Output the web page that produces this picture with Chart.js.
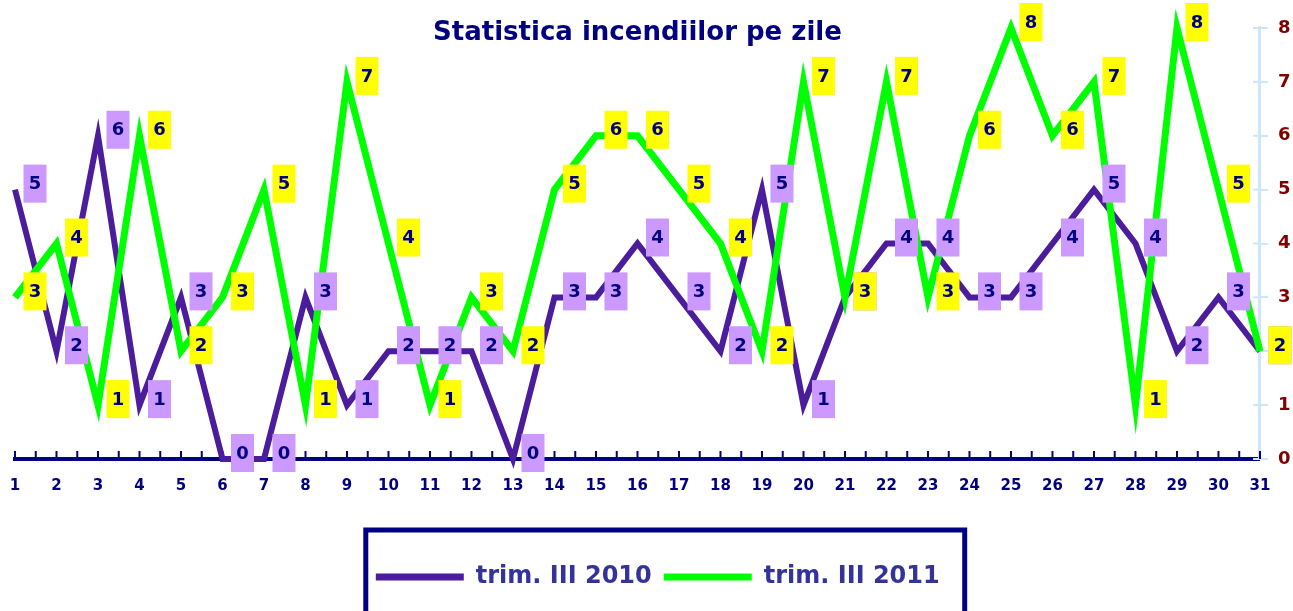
<!DOCTYPE html>
<html>
<head>
<meta charset="utf-8">
<script src="https://cdn.jsdelivr.net/npm/chart.js@4.4.0/dist/chart.umd.min.js"></script>
<style>
  html, body { margin: 0; padding: 0; background: #fff; }
</style>
</head>
<body>
<canvas id="chart" width="1293" height="611"></canvas>
<script>
// days of the month
const days = [1, 2, 3, 4, 5, 6, 7, 8, 9, 10, 11, 12, 13, 14, 15, 16, 17, 18, 19, 20, 21, 22, 23, 24, 25, 26, 27, 28, 29, 30, 31];
// fires per day
const fires2010 = [5, 2, 6, 1, 3, 0, 0, 3, 1, 2, 2, 2, 0, 3, 3, 4, 3, 2, 5, 1, 3, 4, 4, 3, 3, 4, 5, 4, 2, 3, 2];
const fires2011 = [3, 4, 1, 6, 2, 3, 5, 1, 7, 4, 1, 3, 2, 5, 6, 6, 5, 4, 2, 7, 3, 7, 3, 6, 8, 6, 7, 1, 8, 5, 2];
const yTicks = [0, 1, 2, 3, 4, 5, 6, 7, 8];
const seriesNames = ['trim. III 2010', 'trim. III 2011'];
const chartTitle = 'Statistica incendiilor pe zile';

const NAVY = '#000080';
const AXIS_BLUE = '#cde6fa';

// value boxes next to each point
const valueBoxes = {
    id: 'valueBoxes',
    afterDatasetsDraw(chart) {
        const ctx = chart.ctx;
        ctx.save();
        ctx.font = 'bold 18px "DejaVu Sans"';
        ctx.textAlign = 'center';
        ctx.textBaseline = 'middle';
        chart.data.datasets.forEach((ds, i) => {
            chart.getDatasetMeta(i).data.forEach((pt, j) => {
                const x = pt.x + 20, y = pt.y - 6;
                ctx.fillStyle = ds.boxColor;
                ctx.fillRect(x - 11.5, y - 19, 23, 38);
                ctx.fillStyle = NAVY;
                ctx.fillText(ds.data[j].y, x, y + 1);
            });
        });
        ctx.restore();
    }
};

// short tick marks: upwards on the x axis, both sides on the y axis
const axisMarks = {
    id: 'axisMarks',
    beforeDatasetsDraw(chart) {
        const ctx = chart.ctx;
        const xs = chart.scales.x, ys = chart.scales.y;
        const bottom = chart.chartArea.bottom, right = chart.chartArea.right;
        ctx.save();
        ctx.lineWidth = 2;
        ctx.strokeStyle = AXIS_BLUE;
        ys.ticks.forEach(t => {
            const y = ys.getPixelForValue(t.value);
            ctx.beginPath();
            ctx.moveTo(right - 7, y);
            ctx.lineTo(right, y);
            ctx.stroke();
        });
        ctx.strokeStyle = NAVY;
        xs.ticks.forEach(t => {
            const x = xs.getPixelForValue(t.value);
            ctx.beginPath();
            ctx.moveTo(x, bottom);
            ctx.lineTo(x, bottom - 8);
            ctx.stroke();
        });
        ctx.restore();
    }
};

// frame round the legend
const legendFrame = {
    id: 'legendFrame',
    afterDraw(chart) {
        const lg = chart.legend;
        const hb = lg.legendHitBoxes;
        if (!hb || !hb.length) return;
        const left = hb[0].left - 10;
        const last = hb[hb.length - 1];
        const right = last.left + last.width + 25;
        const top = lg.top - 23;
        const ctx = chart.ctx;
        ctx.save();
        ctx.lineWidth = 5;
        ctx.strokeStyle = NAVY;
        ctx.strokeRect(left, top, right - left, chart.height + 20 - top);
        ctx.restore();
    }
};

new Chart(document.getElementById('chart'), {
    type: 'line',
    data: {
        datasets: [
            {
                label: seriesNames[0],
                data: days.map((d, i) => ({x: d, y: fires2010[i]})),
                borderColor: '#4b1c9c',
                backgroundColor: '#4b1c9c',
                boxColor: '#cc99ff',
                borderWidth: 6,
                order: 1
            },
            {
                label: seriesNames[1],
                data: days.map((d, i) => ({x: d, y: fires2011[i]})),
                borderColor: '#00ff00',
                backgroundColor: '#00ff00',
                boxColor: '#ffff00',
                borderWidth: 7,
                order: 0
            }
        ]
    },
    options: {
        responsive: false,
        animation: false,
        clip: false,
        elements: {
            point: { radius: 0 },
            line: { tension: 0, fill: false }
        },
        layout: { padding: { left: 15, right: -7.5, top: 0, bottom: 12 } },
        scales: {
            x: {
                type: 'linear',
                min: 1,
                max: 31,
                afterFit(scale) { scale.height = 94; },
                // tick marks are drawn by axisMarks; tickLength only pushes the labels down
                grid: { display: false, drawTicks: true, tickLength: 18 },
                border: { display: true, color: NAVY, width: 4 },
                ticks: {
                    stepSize: 0.5,
                    autoSkip: false,
                    maxRotation: 0,
                    padding: 0,
                    color: NAVY,
                    font: { family: 'DejaVu Sans', size: 15, weight: 'bold' },
                    callback: v => Number.isInteger(v) ? String(days[v - 1]) : ''
                }
            },
            y: {
                position: 'right',
                min: 0,
                max: 8,
                grid: { drawOnChartArea: false, color: AXIS_BLUE, lineWidth: 2, tickLength: 8 },
                border: { display: true, color: AXIS_BLUE, width: 3 },
                ticks: {
                    stepSize: 1,
                    padding: 10,
                    color: '#800000',
                    font: { family: 'DejaVu Sans', size: 18, weight: 'bold' },
                    callback: v => String(yTicks[v])
                }
            }
        },
        plugins: {
            tooltip: { enabled: false },
            title: {
                display: true,
                text: chartTitle,
                fullSize: false,
                color: NAVY,
                font: { family: 'DejaVu Sans', size: 26, weight: 'bold', lineHeight: 1.2 },
                padding: { top: 17.4, bottom: -20.6 }
            },
            legend: {
                position: 'bottom',
                labels: {
                    boxWidth: 88,
                    boxHeight: 7,
                    padding: 12,
                    color: '#333399',
                    font: { family: 'DejaVu Sans', size: 24, weight: 'bold' },
                    generateLabels(chart) {
                        const items = Chart.defaults.plugins.legend.labels.generateLabels(chart);
                        items.forEach(it => { it.fillStyle = it.strokeStyle; it.lineWidth = 0; });
                        return items.sort((a, b) => a.datasetIndex - b.datasetIndex);
                    }
                }
            }
        }
    },
    plugins: [axisMarks, valueBoxes, legendFrame]
});
</script>
</body>
</html>
